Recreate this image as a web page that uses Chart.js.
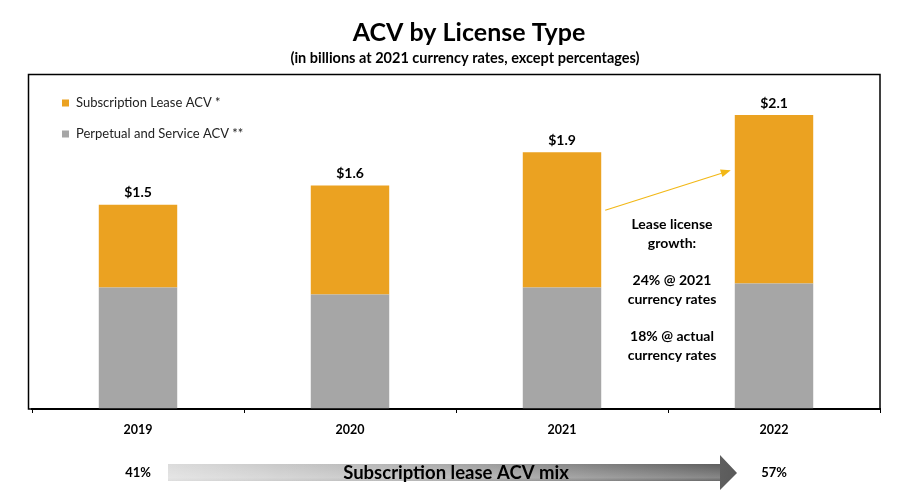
<!DOCTYPE html>
<html>
<head>
<meta charset="utf-8">
<script src="https://cdn.jsdelivr.net/npm/chart.js@4.4.0/dist/chart.umd.min.js"></script>
<style>
  html, body { margin: 0; padding: 0; background: #fff; }
  #chart { display: block; }
</style>
</head>
<body>
<canvas id="chart" width="919" height="502"></canvas>
<script>
// Data
const years = ['2019', '2020', '2021', '2022'];
const perpetualAcv = [0.88, 0.83, 0.88, 0.91];
const leaseAcv = [0.60, 0.79, 0.98, 1.22];
const totalLabels = ['$1.5', '$1.6', '$1.9', '$2.1'];
const mixLabels = ['41%', '57%'];
const noteLines = ['Lease license', 'growth:', '', '24% @ 2021', 'currency rates', '', '18% @ actual', 'currency rates'];

const ORANGE = '#EBA221';
const GRAY = '#A6A6A6';
const FONT = 'Lato, "Open Sans", sans-serif';

function font(size, bold) {
  return (bold ? 'bold ' : '') + size + 'px ' + FONT;
}

// Custom drawing: title, frame, legend, labels, annotation, mix arrow
const extras = {
  id: 'extras',
  beforeDraw(c) {
    const ctx = c.ctx;
    ctx.save();
    ctx.fillStyle = '#fff';
    ctx.fillRect(0, 0, c.width, c.height);
    ctx.restore();
  },
  afterDatasetsDraw(c) {
    const ctx = c.ctx;
    const x = c.scales.x;
    const y = c.scales.y;
    const top = c.getDatasetMeta(1);
    ctx.save();
    ctx.fillStyle = '#000';
    ctx.textAlign = 'center';
    ctx.textBaseline = 'middle';

    // totals above bars
    ctx.font = font(14, true);
    top.data.forEach((bar, i) => {
      ctx.fillText(totalLabels[i], bar.x, bar.y - 12);
    });

    // growth note between 2021 and 2022
    const cx = (x.getPixelForValue(2) + x.getPixelForValue(3)) / 2 + 4;
    let ly = 224;
    ctx.font = font(14, true);
    noteLines.forEach(t => {
      if (t) ctx.fillText(t, cx, ly);
      ly += t ? 19 : 18;
    });

    // arrow from 2021 bar to 2022 bar
    const b21 = top.data[2], b22 = top.data[3];
    const x0 = b21.x + b21.width / 2 + 4, y0 = y.getPixelForValue(1.44);
    const x1 = b22.x - b22.width / 2 - 4, y1 = y.getPixelForValue(1.73);
    ctx.strokeStyle = '#F2B817';
    ctx.fillStyle = '#F2B817';
    ctx.lineWidth = 1.2;
    ctx.beginPath();
    ctx.moveTo(x0, y0);
    ctx.lineTo(x1 - 6, y1 + 2);
    ctx.stroke();
    const ang = Math.atan2(y1 - y0, x1 - x0);
    ctx.beginPath();
    ctx.moveTo(x1, y1);
    ctx.lineTo(x1 - 10 * Math.cos(ang) + 4 * Math.sin(ang), y1 - 10 * Math.sin(ang) - 4 * Math.cos(ang));
    ctx.lineTo(x1 - 10 * Math.cos(ang) - 4 * Math.sin(ang), y1 - 10 * Math.sin(ang) + 4 * Math.cos(ang));
    ctx.closePath();
    ctx.fill();
    ctx.restore();
  },
  afterDraw(c) {
    const ctx = c.ctx;
    const x = c.scales.x;
    const area = c.chartArea;
    ctx.save();
    ctx.fillStyle = '#000';
    ctx.textAlign = 'center';
    ctx.textBaseline = 'middle';

    // title
    ctx.font = font(25, true);
    ctx.fillText('ACV by License Type', 469, 33);
    ctx.font = font(14.5, true);
    ctx.fillText('(in billions at 2021 currency rates, except percentages)', 465, 58);

    // frame
    ctx.strokeStyle = '#000';
    ctx.lineWidth = 1.5;
    ctx.strokeRect(28.5, 74.5, area.right - 28.5, area.bottom - 74.5);

    // legend
    ctx.textAlign = 'left';
    ctx.font = font(13, false);
    const items = [
      { text: c.data.datasets[1].label, color: ORANGE },
      { text: c.data.datasets[0].label, color: GRAY }
    ];
    items.forEach((it, i) => {
      const ly = 103 + i * 31;
      ctx.fillStyle = it.color;
      ctx.fillRect(62, ly - 3.5, 7, 7);
      ctx.fillStyle = '#222';
      ctx.fillText(it.text, 76, ly);
    });

    // mix arrow
    const sx = 168, ex = 720, tip = 737, my = 473;
    const g = ctx.createLinearGradient(sx, 0, tip, 0);
    g.addColorStop(0, '#DCDCDC');
    g.addColorStop(0.45, '#B0B0B0');
    g.addColorStop(1, '#5A5A5A');
    ctx.fillStyle = g;
    ctx.beginPath();
    ctx.moveTo(sx, 464);
    ctx.lineTo(ex, 464);
    ctx.lineTo(ex, 455);
    ctx.lineTo(tip, my);
    ctx.lineTo(ex, 490);
    ctx.lineTo(ex, 481);
    ctx.lineTo(sx, 481);
    ctx.closePath();
    ctx.fill();
    const v = ctx.createLinearGradient(0, 464, 0, 481);
    v.addColorStop(0, 'rgba(255,255,255,0)');
    v.addColorStop(0.8, 'rgba(255,255,255,0.25)');
    v.addColorStop(1, 'rgba(255,255,255,0.05)');
    ctx.fillStyle = v;
    ctx.fillRect(sx, 464, ex - sx, 17);

    ctx.textAlign = 'center';
    ctx.fillStyle = '#000';
    ctx.font = font(18.5, true);
    ctx.fillText('Subscription lease ACV mix', 456, 473);
    ctx.font = font(13, true);
    ctx.fillText(mixLabels[0], x.getPixelForValue(0), 473);
    ctx.fillText(mixLabels[1], x.getPixelForValue(3), 473);
    ctx.restore();
  }
};

const chart = new Chart(document.getElementById('chart'), {
  type: 'bar',
  data: {
    labels: years,
    datasets: [
      {
        label: 'Perpetual and Service ACV **',
        data: perpetualAcv,
        backgroundColor: GRAY,
        borderWidth: 0,
      },
      {
        label: 'Subscription Lease ACV *',
        data: leaseAcv,
        backgroundColor: ORANGE,
        borderWidth: 0,
      },
    ],
  },
  options: {
    responsive: false,
    animation: false,
    devicePixelRatio: 1,
    layout: { padding: { left: 32, right: 39, top: 75, bottom: 63 } },
    datasets: { bar: { categoryPercentage: 1, barPercentage: 0.37 } },
    scales: {
      x: {
        stacked: true,
        grid: { drawOnChartArea: false, drawTicks: true, tickLength: 4, color: '#000', offset: true },
        border: { display: true, color: '#000', width: 2 },
        ticks: { color: '#000', font: { family: FONT, size: 12.5, weight: 'bold' }, padding: 9 },
        afterFit: s => { s.height = 30; },
      },
      y: {
        stacked: true,
        display: false,
        min: 0,
        max: 2.42,
      },
    },
    plugins: {
      legend: { display: false },
      tooltip: { enabled: false },
    },
  },
  plugins: [extras],
});
</script>
</body>
</html>
